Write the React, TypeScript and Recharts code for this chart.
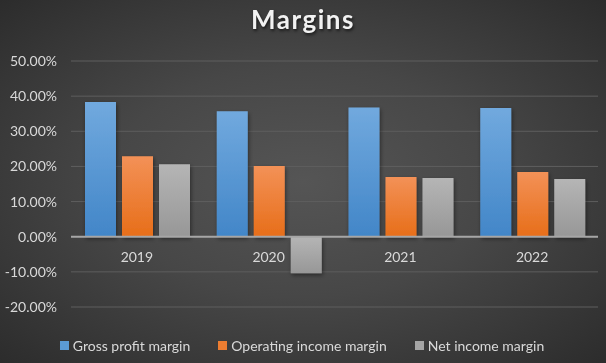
import {
  BarChart,
  Bar,
  XAxis,
  YAxis,
  CartesianGrid,
  Legend,
  ReferenceLine,
} from 'recharts';

const years = ['2019', '2020', '2021', '2022'];
const grossProfit = [38.3, 35.7, 36.8, 36.6];
const operatingIncome = [22.9, 20.1, 17.0, 18.4];
const netIncome = [20.6, -10.4, 16.7, 16.4];
const yTicks = [-20, -10, 0, 10, 20, 30, 40, 50];

const data = years.map((year, i) => ({
  year,
  gross: grossProfit[i],
  operating: operatingIncome[i],
  net: netIncome[i],
}));

const W = 606;
const H = 363;
const PLOT_TOP = 61;
const PLOT_BOTTOM = 307;
const ZERO_Y = PLOT_TOP + ((PLOT_BOTTOM - PLOT_TOP) * 50) / 70;
const FONT = 'Lato, "Open Sans", sans-serif';
const TEXT = '#d9d9d9';

const series = [
  { key: 'gross', name: 'Gross profit margin', top: '#71a9de', bottom: '#4286c8', swatch: '#5b9bd5' },
  { key: 'operating', name: 'Operating income margin', top: '#f39157', bottom: '#e76e19', swatch: '#ed7d31' },
  { key: 'net', name: 'Net income margin', top: '#b5b5b5', bottom: '#979797', swatch: '#a5a5a5' },
];

const XTick = ({ x, payload }: any) => (
  <text x={x} y={ZERO_Y + 25} textAnchor="middle" fill={TEXT} fontSize={14} fontFamily={FONT}>
    {payload.value}
  </text>
);

const LegendContent = () => (
  <div
    style={{
      height: 36,
      display: 'flex',
      alignItems: 'center',
      justifyContent: 'center',
      gap: 28,
      fontFamily: FONT,
      fontSize: 14,
      color: TEXT,
      paddingLeft: 6,
    }}
  >
    {series.map((s) => (
      <div key={s.key} style={{ display: 'flex', alignItems: 'center', gap: 4 }}>
        <span style={{ width: 9, height: 9, background: s.swatch, display: 'inline-block' }} />
        <span>{s.name}</span>
      </div>
    ))}
  </div>
);

export default function App() {
  return (
    <div
      style={{
        position: 'fixed',
        left: 0,
        top: 0,
        width: W,
        height: H,
        background: 'radial-gradient(ellipse at 50% 50%, #555555 0%, #474747 45%, #363636 80%, #2c2c2c 100%)',
      }}
    >
      <div
        style={{
          position: 'absolute',
          top: 3,
          left: 0,
          width: W,
          textAlign: 'center',
          fontFamily: FONT,
          fontWeight: 700,
          fontSize: 26,
          letterSpacing: 1.5,
          color: '#f2f2f2',
          textShadow: '1px 2px 3px rgba(0,0,0,0.6)',
        }}
      >
        Margins
      </div>
      <BarChart
        width={W}
        height={H}
        data={data}
        margin={{ top: PLOT_TOP, right: 8, left: 0, bottom: 0 }}
        barCategoryGap={14}
        barGap={6}
      >
        <defs>
          {series.map((s) => (
            <linearGradient key={s.key} id={`grad-${s.key}`} x1="0" y1="0" x2="0" y2="1">
              <stop offset="0%" stopColor={s.top} />
              <stop offset="100%" stopColor={s.bottom} />
            </linearGradient>
          ))}
          <filter id="barShadow" x="-20%" y="-20%" width="140%" height="140%">
            <feDropShadow dx="1" dy="2" stdDeviation="2" floodColor="#000" floodOpacity="0.45" />
          </filter>
        </defs>
        <CartesianGrid vertical={false} stroke="#5e5e5e" />
        <XAxis
          dataKey="year"
          axisLine={false}
          tickLine={false}
          height={20}
          tick={<XTick />}
          interval={0}
        />
        <YAxis
          domain={[-20, 50]}
          ticks={yTicks}
          width={71}
          axisLine={false}
          tickLine={false}
          tickMargin={8}
          tick={{ fill: TEXT, fontSize: 14, fontFamily: FONT }}
          tickFormatter={(v: number) => `${v.toFixed(2)}%`}
        />
        <Legend verticalAlign="bottom" height={36} content={<LegendContent />} />
        {series.map((s) => (
          <Bar
            key={s.key}
            dataKey={s.key}
            name={s.name}
            fill={`url(#grad-${s.key})`}
            filter="url(#barShadow)"
            isAnimationActive={false}
          />
        ))}
        <ReferenceLine y={0} stroke="#a6a6a6" strokeWidth={2} />
      </BarChart>
    </div>
  );
}
